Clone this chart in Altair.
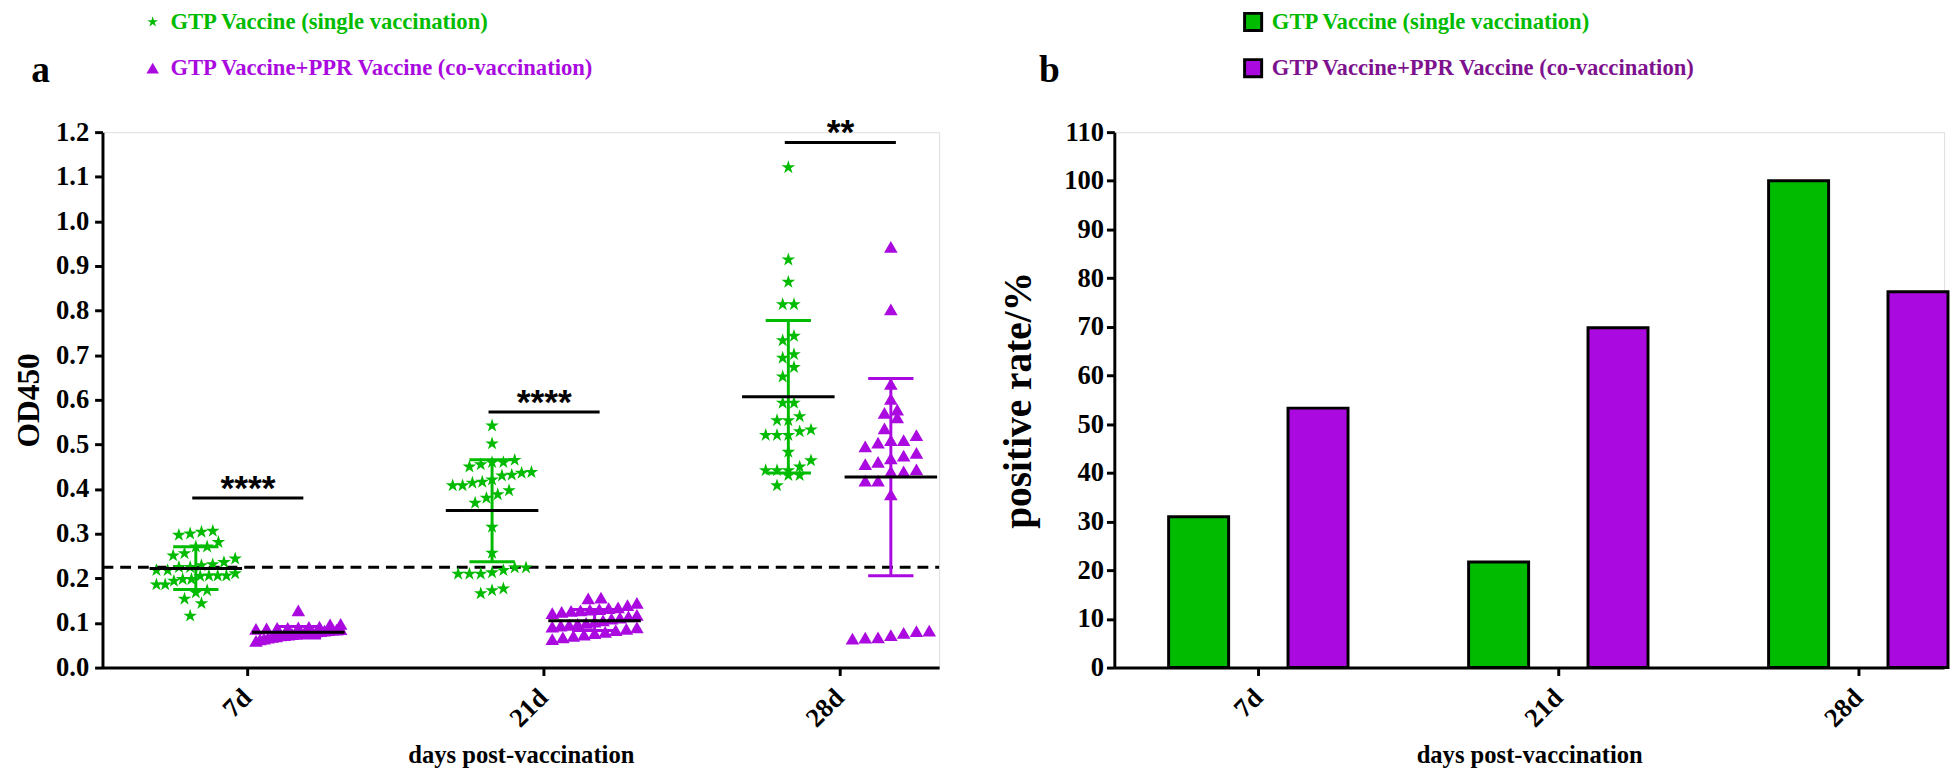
import altair as alt
import pandas as pd
import numpy as np

# ---------------- data ----------------
DAYS = ["7d", "21d", "28d"]
GROUPS = ["GTP Vaccine (single vaccination)", "GTP Vaccine+PPR Vaccine (co-vaccination)"]

od_single_7d = [0.300, 0.306, 0.297, 0.304, 0.281, 0.271, 0.271, 0.251, 0.256, 0.244, 0.236,
                0.229, 0.225, 0.218, 0.218, 0.225, 0.231, 0.206, 0.205, 0.198, 0.211, 0.206,
                0.206, 0.186, 0.186, 0.194, 0.198, 0.173, 0.168, 0.154, 0.144, 0.116]
od_co_7d = [0.128, 0.098, 0.097, 0.092, 0.091, 0.090, 0.089, 0.089, 0.088, 0.087, 0.086,
            0.085, 0.085, 0.084, 0.083, 0.082, 0.081, 0.080, 0.079, 0.078, 0.077, 0.076,
            0.075, 0.074, 0.073, 0.072, 0.070, 0.069, 0.067, 0.065, 0.063, 0.060]
od_single_21d = [0.542, 0.502, 0.460, 0.455, 0.450, 0.460, 0.465, 0.436, 0.430, 0.438, 0.432,
                 0.408, 0.416, 0.414, 0.421, 0.408, 0.388, 0.397, 0.369, 0.380, 0.315, 0.257,
                 0.224, 0.213, 0.210, 0.210, 0.210, 0.218, 0.224, 0.177, 0.166, 0.173]
od_co_21d = [0.157, 0.155, 0.145, 0.140, 0.135, 0.133, 0.131, 0.130, 0.128, 0.127, 0.125,
             0.122, 0.118, 0.115, 0.112, 0.110, 0.106, 0.103, 0.100, 0.098, 0.096, 0.094,
             0.092, 0.090, 0.087, 0.084, 0.080, 0.077, 0.074, 0.071, 0.068, 0.064]
od_single_28d = [1.121, 0.914, 0.864, 0.814, 0.814, 0.733, 0.743, 0.694, 0.702, 0.673, 0.652,
                 0.593, 0.593, 0.554, 0.563, 0.554, 0.533, 0.521, 0.521, 0.521, 0.529, 0.483,
                 0.464, 0.450, 0.442, 0.431, 0.431, 0.442, 0.442, 0.408]
od_co_28d = [0.943, 0.803, 0.636, 0.602, 0.578, 0.571, 0.561, 0.536, 0.521, 0.510, 0.510,
             0.504, 0.496, 0.481, 0.475, 0.461, 0.469, 0.456, 0.444, 0.440, 0.440, 0.419,
             0.419, 0.388, 0.083, 0.078, 0.068, 0.065, 0.067, 0.073, 0.082]

mean_single = [0.222, 0.352, 0.607]
mean_co = [0.079, 0.105, 0.427]
sd_hi_single = [0.271, 0.466, 0.778]
sd_lo_single = [0.175, 0.237, 0.436]
sd_hi_co = [0.092, 0.130, 0.648]
sd_lo_co = [0.066, 0.083, 0.206]

cutoff = 0.225
sig_labels = ["****", "****", "**"]
sig_height = [0.380, 0.573, 1.177]

rate_single = [31.0, 21.7, 100.0]
rate_co = [53.3, 69.8, 77.2]

y_ticks_a = [round(0.1 * i, 1) for i in range(13)]
y_ticks_b = list(range(0, 111, 10))

# ---------------- style ----------------
GREEN = "#00BB00"
PURPLE = "#AA0AE0"
PURPLE_DARK = "#7E128E"
SERIF = "Liberation Serif"
SANS = "Liberation Sans"
STAR = ("M0,-1L0.2245,-0.309L0.951,-0.309L0.363,0.118L0.588,0.809L0,0.382"
        "L-0.588,0.809L-0.363,0.118L-0.951,-0.309L-0.2245,-0.309Z")

W_A, H_A = 850, 544
XDOM_A = [0.512, 3.336]
PX_PER_UNIT_A = W_A / (XDOM_A[1] - XDOM_A[0])
PX_PER_OD = H_A / 1.2
W_B, H_B = 843, 544
XDOM_B = [0.52, 3.286]

GOFF_A = 0.173   # group offset in category units
GOFF_B = 0.199


def swarm(values, row_h, step_px, max_half_px):
    """Prism-like scatter layout: points in the same value row are spread side by side."""
    values = np.asarray(values)
    order = np.argsort(values)
    offs = np.zeros(len(values))
    rows, cur, start = [], [], None
    for i in order:
        v = values[i]
        if start is None or v - start >= row_h:
            if cur:
                rows.append(cur)
            cur, start = [i], v
        else:
            cur.append(i)
    if cur:
        rows.append(cur)
    for r in rows:
        n = len(r)
        s = step_px if n <= 1 else min(step_px, 2 * max_half_px / (n - 1))
        for k, i in enumerate(r):
            offs[i] = (k - (n - 1) / 2) * s
    return offs


series = [(0, 0, od_single_7d), (0, 1, od_co_7d), (1, 0, od_single_21d),
          (1, 1, od_co_21d), (2, 0, od_single_28d), (2, 1, od_co_28d)]
rows = []
for di, gi, vals in series:
    if gi == 0:
        offs = swarm(vals, 14.0 / PX_PER_OD, 11.5, 40)
    else:
        offs = swarm(vals, 12.0 / PX_PER_OD, 13.0, 43)
    center = di + 1 + (-GOFF_A if gi == 0 else GOFF_A)
    for v, o in zip(vals, offs):
        rows.append({"day": DAYS[di], "group": GROUPS[gi], "od": v,
                     "x": center + o / PX_PER_UNIT_A})
df_pts = pd.DataFrame(rows)

srows = []
for di in range(3):
    for gi in range(2):
        c = di + 1 + (-GOFF_A if gi == 0 else GOFF_A)
        srows.append({"group": GROUPS[gi], "xc": c,
                      "xm0": c - 47 / PX_PER_UNIT_A, "xm1": c + 47 / PX_PER_UNIT_A,
                      "xc0": c - 23 / PX_PER_UNIT_A, "xc1": c + 23 / PX_PER_UNIT_A,
                      "mean": (mean_single if gi == 0 else mean_co)[di],
                      "hi": (sd_hi_single if gi == 0 else sd_hi_co)[di],
                      "lo": (sd_lo_single if gi == 0 else sd_lo_co)[di]})
df_sum = pd.DataFrame(srows)

df_sig = pd.DataFrame({"label": sig_labels, "h": sig_height,
                       "x0": [i + 1 - 0.185 for i in range(3)],
                       "x1": [i + 1 + 0.19 for i in range(3)],
                       "xt": [i + 1 + 0.003 for i in range(3)]})

label_expr = " : ".join(f"datum.value == {i + 1} ? '{d}'" for i, d in enumerate(DAYS[:-1])) + f" : '{DAYS[-1]}'"

axis_common = dict(labelFont=SERIF, labelFontSize=27, labelFontWeight="bold", labelColor="black",
                   titleFont=SERIF, titleFontWeight="bold", titleColor="black",
                   tickSize=8, tickWidth=3, tickColor="black", domainWidth=3, domainColor="black",
                   grid=False)

x_axis = alt.Axis(values=[1, 2, 3], labelExpr=label_expr, labelAngle=-45, labelAlign="right",
                  labelBaseline="middle", labelPadding=18, title="days post-vaccination",
                  titleFontSize=25, titlePadding=12, **axis_common)
y_axis_a = alt.Axis(values=y_ticks_a, format=".1f", title="OD450", labelPadding=6,
                    titleFontSize=32, titlePadding=10, **axis_common)
y_axis_b = alt.Axis(values=y_ticks_b, format="d", title="positive rate/%", labelPadding=3,
                    titleFontSize=40, titlePadding=26, **axis_common)


def xa(f):
    return alt.X(f, type="quantitative", scale=alt.Scale(domain=XDOM_A, nice=False, zero=False), axis=x_axis)


def ya(f):
    return alt.Y(f, type="quantitative", scale=alt.Scale(domain=[0, 1.2], nice=False), axis=y_axis_a)


def xb(f):
    return alt.X(f, type="quantitative", scale=alt.Scale(domain=XDOM_B, nice=False, zero=False), axis=x_axis)


def yb(f):
    return alt.Y(f, type="quantitative", scale=alt.Scale(domain=[0, 110], nice=False), axis=y_axis_b)


# ---------------- panel a ----------------
cut = alt.Chart(pd.DataFrame({"c": [cutoff]})).mark_rule(
    color="black", strokeWidth=3, strokeDash=[11, 7]).encode(
    y=ya("c"), x=alt.value(0), x2=alt.value(W_A))

pts_s = alt.Chart(df_pts[df_pts.group == GROUPS[0]]).mark_point(
    filled=True, shape=STAR, size=210, color=GREEN, opacity=1).encode(x=xa("x"), y=ya("od"))
pts_c = alt.Chart(df_pts[df_pts.group == GROUPS[1]]).mark_point(
    filled=True, shape="triangle-up", size=190, color=PURPLE, opacity=1).encode(x=xa("x"), y=ya("od"))

col = alt.Color("group:N", scale=alt.Scale(domain=GROUPS, range=[GREEN, PURPLE]), legend=None)
err_v = alt.Chart(df_sum).mark_rule(strokeWidth=3).encode(x=xa("xc"), y=ya("lo"), y2="hi", color=col)
err_hi = alt.Chart(df_sum).mark_rule(strokeWidth=3).encode(x=xa("xc0"), x2="xc1", y=ya("hi"), color=col)
err_lo = alt.Chart(df_sum).mark_rule(strokeWidth=3).encode(x=xa("xc0"), x2="xc1", y=ya("lo"), color=col)
means = alt.Chart(df_sum).mark_rule(strokeWidth=3, color="black").encode(x=xa("xm0"), x2="xm1", y=ya("mean"))

sig_line = alt.Chart(df_sig).mark_rule(strokeWidth=3, color="black").encode(x=xa("x0"), x2="x1", y=ya("h"))
sig_text = alt.Chart(df_sig).mark_text(font=SANS, fontSize=36, fontWeight="bold", color="black",
                                       baseline="alphabetic", dy=2).encode(
    x=xa("xt"), y=ya("h"), text="label:N")


def text_layer(label, x, y, color, size=23, font=SERIF, align="left"):
    return alt.Chart(pd.DataFrame({"t": [label]})).mark_text(
        font=font, fontSize=size, fontWeight="bold", color=color, align=align, baseline="middle").encode(
        x=alt.value(x), y=alt.value(y), text="t:N")


ROW1, ROW2 = -112, -65

leg_a = [
    alt.Chart(pd.DataFrame({"t": [GROUPS[0]]})).mark_point(filled=True, shape=STAR, size=130, color=GREEN,
                                                           opacity=1).encode(x=alt.value(51), y=alt.value(ROW1)),
    alt.Chart(pd.DataFrame({"t": [GROUPS[1]]})).mark_point(filled=True, shape="triangle-up", size=160,
                                                           color=PURPLE, opacity=1).encode(x=alt.value(51), y=alt.value(ROW2)),
    text_layer(GROUPS[0], 69, ROW1, GREEN),
    text_layer(GROUPS[1], 69, ROW2, PURPLE),
    text_layer("a", -63, -62, "black", size=38, align="center"),
]

panel_a = alt.layer(cut, pts_s, pts_c, err_v, err_hi, err_lo, means, sig_line, sig_text, *leg_a).properties(
    width=W_A, height=H_A)

# ---------------- panel b ----------------
brows = []
for di in range(3):
    for gi in range(2):
        c = di + 1 + (-GOFF_B if gi == 0 else GOFF_B)
        brows.append({"day": DAYS[di], "group": GROUPS[gi], "x0": c - 0.1, "x1": c + 0.1,
                      "rate": (rate_single if gi == 0 else rate_co)[di], "base": 0})
df_bar = pd.DataFrame(brows)

bars = alt.Chart(df_bar).mark_rect(stroke="black", strokeWidth=3, opacity=1).encode(
    x=xb("x0"), x2="x1", y=yb("rate"), y2="base",
    color=alt.Color("group:N", scale=alt.Scale(domain=GROUPS, range=[GREEN, PURPLE]), legend=None))

leg_b = [
    alt.Chart(pd.DataFrame({"t": [GROUPS[0]]})).mark_square(size=300, fill=GREEN, stroke="black", strokeWidth=3,
                                                            opacity=1).encode(x=alt.value(141), y=alt.value(ROW1)),
    alt.Chart(pd.DataFrame({"t": [GROUPS[1]]})).mark_square(size=300, fill=PURPLE, stroke="black", strokeWidth=3,
                                                            opacity=1).encode(x=alt.value(141), y=alt.value(ROW2)),
    text_layer(GROUPS[0], 160, ROW1, GREEN),
    text_layer(GROUPS[1], 160, ROW2, PURPLE_DARK),
    text_layer("b", -66, -62, "black", size=38, align="center"),
]

panel_b = alt.layer(bars, *leg_b).properties(width=W_B, height=H_B)

chart = alt.hconcat(panel_a, panel_b, spacing=58).properties(
    padding={"left": 4, "top": -8, "right": 0, "bottom": 0}).configure_view(
    strokeWidth=0).configure(background="white")

chart.save("out.html", embed_options={"renderer": "svg", "actions": False})
